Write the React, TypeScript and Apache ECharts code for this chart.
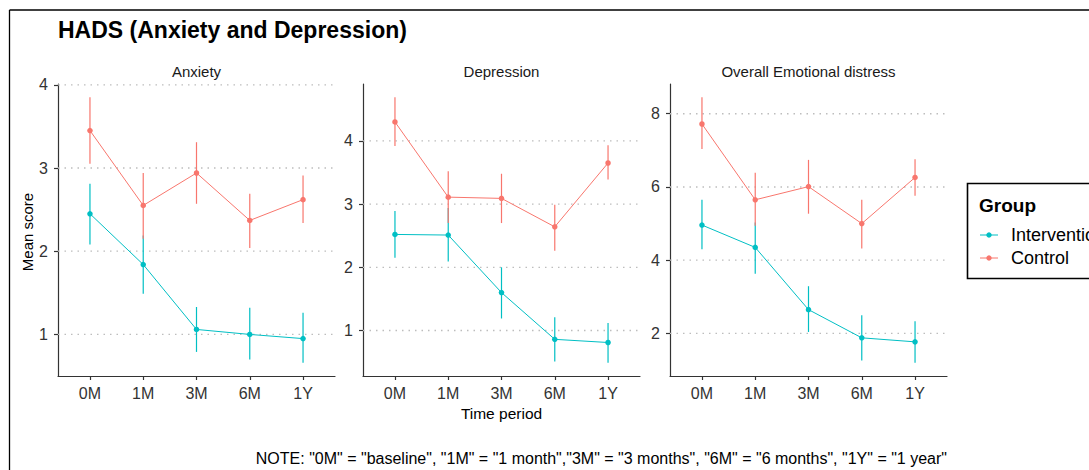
import { useEffect, useRef } from "react";
import * as echarts from "echarts";

// Time points shared by all three panels
const periods = ["0M", "1M", "3M", "6M", "1Y"];
const groupNames = ["Intervention", "Control"];
const panelTitles = ["Anxiety", "Depression", "Overall Emotional distress"];

// Anxiety: means and error-bar limits
const anxietyIntervention = [2.45, 1.84, 1.06, 1.0, 0.95];
const anxietyInterventionLow = [2.08, 1.49, 0.79, 0.7, 0.66];
const anxietyInterventionHigh = [2.81, 2.19, 1.33, 1.32, 1.26];
const anxietyControl = [3.45, 2.55, 2.94, 2.37, 2.62];
const anxietyControlLow = [3.05, 2.15, 2.57, 2.04, 2.34];
const anxietyControlHigh = [3.85, 2.94, 3.31, 2.69, 2.91];

// Depression
const depressionIntervention = [2.52, 2.51, 1.6, 0.86, 0.81];
const depressionInterventionLow = [2.15, 2.09, 1.19, 0.51, 0.49];
const depressionInterventionHigh = [2.89, 2.94, 2.0, 1.21, 1.12];
const depressionControl = [4.3, 3.11, 3.09, 2.64, 3.65];
const depressionControlLow = [3.92, 2.7, 2.7, 2.26, 3.39];
const depressionControlHigh = [4.69, 3.52, 3.48, 2.99, 3.93];

// Overall emotional distress
const distressIntervention = [4.96, 4.35, 2.65, 1.88, 1.77];
const distressInterventionLow = [4.3, 3.63, 2.04, 1.26, 1.2];
const distressInterventionHigh = [5.65, 5.03, 3.29, 2.5, 2.33];
const distressControl = [7.72, 5.65, 6.01, 5.0, 6.26];
const distressControlLow = [7.04, 4.94, 5.27, 4.32, 5.76];
const distressControlHigh = [8.45, 6.39, 6.74, 5.65, 6.76];

// Y tick labels per panel
const anxietyTicks = [1, 2, 3, 4];
const depressionTicks = [1, 2, 3, 4];
const distressTicks = [2, 4, 6, 8];

const FONT = "'Liberation Sans', Arial, sans-serif";
const COLORS = { Intervention: "#00BFC4", Control: "#F8766D" } as Record<string, string>;
const X_MIN = -0.6;
const X_MAX = periods.length - 1 + 0.6;

const panels = [
  {
    title: panelTitles[0],
    ticks: anxietyTicks,
    groups: [
      { name: groupNames[0], mean: anxietyIntervention, low: anxietyInterventionLow, high: anxietyInterventionHigh },
      { name: groupNames[1], mean: anxietyControl, low: anxietyControlLow, high: anxietyControlHigh },
    ],
  },
  {
    title: panelTitles[1],
    ticks: depressionTicks,
    groups: [
      { name: groupNames[0], mean: depressionIntervention, low: depressionInterventionLow, high: depressionInterventionHigh },
      { name: groupNames[1], mean: depressionControl, low: depressionControlLow, high: depressionControlHigh },
    ],
  },
  {
    title: panelTitles[2],
    ticks: distressTicks,
    groups: [
      { name: groupNames[0], mean: distressIntervention, low: distressInterventionLow, high: distressInterventionHigh },
      { name: groupNames[1], mean: distressControl, low: distressControlLow, high: distressControlHigh },
    ],
  },
];

// Panel placement in pixels
const GRID_LEFTS = [58, 363, 670];
const GRID_WIDTH = 277;
const GRID_TOP = 84;
const GRID_HEIGHT = 292;

function buildOption() {
  const grid: any[] = [];
  const xAxis: any[] = [];
  const yAxis: any[] = [];
  const series: any[] = [];
  const graphic: any[] = [];

  panels.forEach((panel, p) => {
    grid.push({ left: GRID_LEFTS[p], top: GRID_TOP, width: GRID_WIDTH, height: GRID_HEIGHT, containLabel: false });

    // ggplot-style 5% expansion of the data range (including error bars)
    const lows = panel.groups.flatMap((g) => g.low);
    const highs = panel.groups.flatMap((g) => g.high);
    const lo = Math.min(...lows);
    const hi = Math.max(...highs);
    const pad = (hi - lo) * 0.05;

    xAxis.push({
      type: "value",
      gridIndex: p,
      min: X_MIN,
      max: X_MAX,
      axisLine: { show: true, onZero: false, lineStyle: { color: "#333", width: 1.2 } },
      axisTick: { show: true, length: 4, customValues: periods.map((_, i) => i), lineStyle: { color: "#333", width: 1.2 } },
      axisLabel: {
        customValues: periods.map((_, i) => i),
        formatter: (v: number) => periods[Math.round(v)] ?? "",
        color: "#333",
        fontFamily: FONT,
        fontSize: 16,
        margin: 9,
      },
      splitLine: { show: false },
    });

    yAxis.push({
      type: "value",
      gridIndex: p,
      min: lo - pad,
      max: hi + pad,
      axisLine: { show: true, onZero: false, lineStyle: { color: "#333", width: 1.2 } },
      axisTick: { show: true, length: 4, customValues: panel.ticks, lineStyle: { color: "#333", width: 1.2 } },
      axisLabel: {
        customValues: panel.ticks,
        color: "#333",
        fontFamily: FONT,
        fontSize: 16,
        margin: 10,
      },
      splitLine: { show: false },
    });

    // dotted horizontal gridlines at the labelled ticks
    series.push({
      type: "custom",
      xAxisIndex: p,
      yAxisIndex: p,
      silent: true,
      z: 1,
      data: panel.ticks.map((t) => [0, t]),
      encode: { x: 0, y: 1 },
      renderItem: (_params: any, api: any) => {
        const v = api.value(1);
        const a = api.coord([X_MIN, v]);
        const b = api.coord([X_MAX, v]);
        return {
          type: "line",
          shape: { x1: a[0], y1: a[1], x2: b[0], y2: b[1] },
          style: { stroke: "#bdbdbd", lineWidth: 1.3, lineDash: [1.5, 5] },
        };
      },
    });

    panel.groups.forEach((g) => {
      const color = COLORS[g.name];
      // error bars
      series.push({
        type: "custom",
        name: g.name,
        xAxisIndex: p,
        yAxisIndex: p,
        z: 3,
        data: periods.map((_, i) => [i, g.low[i], g.high[i]]),
        encode: { x: 0, y: [1, 2] },
        renderItem: (_params: any, api: any) => {
          const x = api.value(0);
          const a = api.coord([x, api.value(1)]);
          const b = api.coord([x, api.value(2)]);
          return {
            type: "line",
            shape: { x1: a[0], y1: a[1], x2: b[0], y2: b[1] },
            style: { stroke: color, lineWidth: 1.2 },
          };
        },
      });
      // means joined by a line
      series.push({
        type: "line",
        name: g.name,
        xAxisIndex: p,
        yAxisIndex: p,
        z: 4,
        data: periods.map((_, i) => [i, g.mean[i]]),
        symbol: "circle",
        symbolSize: 5.5,
        showSymbol: true,
        lineStyle: { color, width: 1 },
        itemStyle: { color },
      });
    });

    // facet strip title
    graphic.push({
      type: "text",
      x: GRID_LEFTS[p] + GRID_WIDTH / 2,
      y: 71,
      style: {
        text: panel.title,
        fontFamily: FONT,
        fontSize: 15,
        fill: "#1a1a1a",
        align: "center",
        verticalAlign: "middle",
      },
    });
  });

  // outer frame (left and top edges)
  graphic.push(
    { type: "line", shape: { x1: 9.5, y1: 10, x2: 9.5, y2: 470 }, style: { stroke: "#000", lineWidth: 1.3 } },
    { type: "line", shape: { x1: 9.5, y1: 10, x2: 1089, y2: 10 }, style: { stroke: "#000", lineWidth: 1.3 } }
  );

  // main title
  graphic.push({
    type: "text",
    x: 58,
    y: 30,
    style: {
      text: "HADS (Anxiety and Depression)",
      fontFamily: FONT,
      fontSize: 23,
      fontWeight: "bold",
      fill: "#000",
      align: "left",
      verticalAlign: "middle",
    },
  });

  // axis titles
  graphic.push(
    {
      type: "text",
      x: 27,
      y: 232,
      rotation: Math.PI / 2,
      style: {
        text: "Mean score",
        fontFamily: FONT,
        fontSize: 15,
        fill: "#000",
        align: "center",
        verticalAlign: "middle",
      },
    },
    {
      type: "text",
      x: GRID_LEFTS[1] + GRID_WIDTH / 2,
      y: 413,
      style: {
        text: "Time period",
        fontFamily: FONT,
        fontSize: 15.5,
        fill: "#000",
        align: "center",
        verticalAlign: "middle",
      },
    }
  );

  // caption
  graphic.push({
    type: "text",
    x: GRID_LEFTS[2] + GRID_WIDTH,
    y: 458,
    style: {
      text: 'NOTE: "0M" = "baseline", "1M" = "1 month","3M" = "3 months", "6M" = "6 months", "1Y" = "1 year"',
      fontFamily: FONT,
      fontSize: 16,
      fill: "#000",
      align: "right",
      verticalAlign: "middle",
    },
  });

  // legend box
  const legendItems = groupNames.map((name, i) => ({
    type: "group",
    x: 980,
    y: 235 + i * 23,
    children: [
      { type: "line", shape: { x1: 0, y1: 0, x2: 18, y2: 0 }, style: { stroke: COLORS[name], lineWidth: 1 } },
      { type: "circle", shape: { cx: 9, cy: 0, r: 2.7 }, style: { fill: COLORS[name] } },
      {
        type: "text",
        x: 31,
        y: 0,
        style: { text: name, fontFamily: FONT, fontSize: 18, fill: "#000", align: "left", verticalAlign: "middle" },
      },
    ],
  }));
  graphic.push(
    {
      type: "rect",
      shape: { x: 967.5, y: 183.5, width: 140, height: 95 },
      style: { fill: "#fff", stroke: "#000", lineWidth: 1.6 },
    },
    {
      type: "text",
      x: 979,
      y: 205,
      style: {
        text: "Group",
        fontFamily: FONT,
        fontSize: 19,
        fontWeight: "bold",
        fill: "#000",
        align: "left",
        verticalAlign: "middle",
      },
    },
    ...legendItems
  );

  return {
    animation: false,
    backgroundColor: "#fff",
    textStyle: { fontFamily: FONT },
    grid,
    xAxis,
    yAxis,
    series,
    graphic,
  };
}

export default function App() {
  const ref = useRef<HTMLDivElement>(null);

  useEffect(() => {
    if (!ref.current) return;
    const chart = echarts.init(ref.current, undefined, { renderer: "svg" });
    chart.setOption(buildOption() as any);
    return () => chart.dispose();
  }, []);

  return (
    <div
      ref={ref}
      style={{ position: "absolute", left: 0, top: 0, width: 1089, height: 470 }}
    />
  );
}
